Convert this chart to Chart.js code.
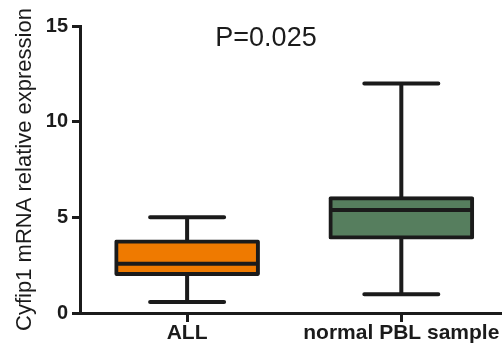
<!DOCTYPE html>
<html>
<head>
<meta charset="utf-8">
<title>Cyfip1 mRNA relative expression</title>
<script src="https://cdn.jsdelivr.net/npm/chart.js@4/dist/chart.umd.min.js"></script>
<style>
  html, body { margin: 0; padding: 0; background: #fff; }
  #wrap { width: 502px; height: 344px; position: relative; }
</style>
</head>
<body>
<div id="wrap"><canvas id="boxChart"></canvas></div>
<script>
// box plot values
const categories = ['ALL', 'normal PBL sample'];
const whiskerMin = [0.57, 0.98];
const quartile1  = [1.95, 3.86];
const medians    = [2.58, 5.38];
const quartile3  = [3.83, 6.08];
const whiskerMax = [5.0, 12.0];
const boxColors  = ['#EF7A00', '#567E5E'];
const yTicks     = [0, 5, 10, 15];
const pValueText = 'P=0.025';

const INK = '#1b1b1b';
Chart.defaults.font.family = "'Liberation Sans', Arial, sans-serif";
Chart.defaults.color = INK;

// whiskers + caps behind the boxes, medians on top
const boxPlotLines = {
  id: 'boxPlotLines',
  beforeDatasetsDraw(chart) {
    const { ctx, scales: { x, y } } = chart;
    ctx.save();
    ctx.strokeStyle = INK;
    ctx.lineWidth = 4;
    ctx.lineCap = 'round';
    categories.forEach((c, i) => {
      const cx = x.getPixelForValue(i + 1);
      const capHalf = 37;
      const yMin = y.getPixelForValue(whiskerMin[i]);
      const yMax = y.getPixelForValue(whiskerMax[i]);
      ctx.beginPath();
      ctx.moveTo(cx, yMin);
      ctx.lineTo(cx, yMax);
      ctx.moveTo(cx - capHalf, yMin);
      ctx.lineTo(cx + capHalf, yMin);
      ctx.moveTo(cx - capHalf, yMax);
      ctx.lineTo(cx + capHalf, yMax);
      ctx.stroke();
    });
    ctx.restore();
  },
  afterDatasetsDraw(chart) {
    const { ctx, scales: { y } } = chart;
    const meta = chart.getDatasetMeta(0);
    ctx.save();
    ctx.strokeStyle = INK;
    ctx.lineWidth = 4;
    meta.data.forEach((bar, i) => {
      const half = bar.width / 2;
      const my = y.getPixelForValue(medians[i]);
      ctx.beginPath();
      ctx.moveTo(bar.x - half + 2, my);
      ctx.lineTo(bar.x + half - 2, my);
      ctx.stroke();
    });
    // p value label
    ctx.fillStyle = INK;
    ctx.font = "27px 'Liberation Sans', Arial, sans-serif";
    ctx.textAlign = 'center';
    ctx.textBaseline = 'middle';
    ctx.fillText(pValueText, chart.chartArea.left + 186, chart.chartArea.top + 13);
    ctx.restore();
  }
};

new Chart(document.getElementById('boxChart'), {
  type: 'bar',
  data: {
    datasets: [{
      data: categories.map((c, i) => ({ x: i + 1, y: [quartile1[i], quartile3[i]] })),
      backgroundColor: boxColors,
      borderColor: INK,
      borderWidth: 4,
      borderSkipped: false,
      borderRadius: 2,
      barThickness: 145,
    }]
  },
  options: {
    responsive: true,
    maintainAspectRatio: false,
    animation: false,
    layout: { padding: { top: 26, left: 0, right: 0, bottom: 0 } },
    plugins: {
      legend: { display: false },
      tooltip: { enabled: false }
    },
    scales: {
      x: {
        type: 'linear',
        min: 0.5,
        max: 2.47,
        offset: false,
        afterBuildTicks: s => { s.ticks = categories.map((c, i) => ({ value: i + 1 })); },
        afterFit: s => { s.height = 31; },
        ticks: {
          callback: v => categories[v - 1],
          font: { size: 21, weight: 'bold', lineHeight: 1 },
          padding: 1,
          color: INK,
          maxRotation: 0,
          autoSkip: false
        },
        grid: { offset: false, drawOnChartArea: false, tickLength: 9, tickWidth: 3, tickColor: INK },
        border: { width: 3, color: INK }
      },
      y: {
        min: 0,
        max: 15,
        afterBuildTicks: s => { s.ticks = yTicks.map(v => ({ value: v })); },
        afterFit: s => { s.width = 80; },
        ticks: {
          font: { size: 20, weight: 'bold' },
          padding: 4,
          color: INK
        },
        grid: { drawOnChartArea: false, tickLength: 8, tickWidth: 3, tickColor: INK },
        border: { width: 3, color: INK },
        title: {
          display: true,
          text: 'Cyfip1 mRNA relative expression',
          font: { size: 22 },
          color: INK,
          padding: { top: 12, bottom: 0 }
        }
      }
    }
  },
  plugins: [boxPlotLines]
});
</script>
</body>
</html>
